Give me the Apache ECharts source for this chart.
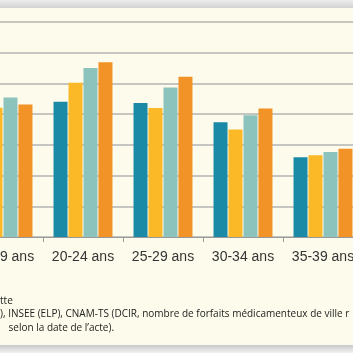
<!DOCTYPE html>
<html>
<head>
<meta charset="utf-8">
<script src="https://cdn.jsdelivr.net/npm/echarts@6/dist/echarts.min.js"></script>
<style>
html,body{margin:0;padding:0;background:#fcfbec;overflow:hidden;width:353px;height:353px;position:relative;}
#c{width:400px;height:353px;position:absolute;left:-37px;top:0;}
</style>
</head>
<body>
<div id="c"></div>
<script>
const categories = ['15-19 ans', '20-24 ans', '25-29 ans', '30-34 ans', '35-39 ans'];
const series1 = [4.30, 4.40, 4.36, 3.74, 2.60];
const series2 = [4.21, 5.02, 4.20, 3.50, 2.66];
const series3 = [4.54, 5.50, 4.87, 3.96, 2.77];
const series4 = [4.31, 5.69, 5.22, 4.18, 2.87];
const seriesNames = ['Série 1', 'Série 2', 'Série 3', 'Série 4'];
const colors = ['#1b8aa6', '#fbb827', '#8dc3bd', '#f29327'];
const footLines = ['tte', '), INSEE (ELP), CNAM-TS (DCIR, nombre de forfaits médicamenteux de ville r', ' selon la date de l\u2019acte).'];

const OFF = 37;
const chart = echarts.init(document.getElementById('c'), null, {renderer: 'canvas'});
const allData = [series1, series2, series3, series4];
chart.setOption({
  backgroundColor: '#fcfbec',
  animation: false,
  grid: {left: 0, right: 0, top: 22, height: 215, containLabel: false},
  xAxis: {
    type: 'category',
    data: categories,
    boundaryGap: true,
    axisLine: {lineStyle: {color: '#9a9a9a', width: 1}},
    axisTick: {show: true, length: 5, lineStyle: {color: '#9a9a9a'}},
    axisLabel: {interval: 0, color: '#333', fontSize: 14, fontFamily: 'Liberation Sans', margin: 13}
  },
  yAxis: {
    type: 'value', min: 0, max: 7, interval: 1,
    axisLabel: {show: false}, axisLine: {show: false}, axisTick: {show: false},
    splitLine: {lineStyle: {color: '#b3b3b3', width: 1.5}}
  },
  series: allData.map((d, i) => ({
    type: 'bar', name: seriesNames[i], data: d,
    barWidth: 14, barGap: '7%',
    itemStyle: {color: colors[i]}
  })),
  graphic: [
    {type: 'rect', left: 0, top: 0, shape: {width: 400, height: 8},
     style: {fill: new echarts.graphic.LinearGradient(0, 0, 0, 1, [{offset: 0, color: '#ececec'}, {offset: 1, color: '#d2d2d2'}])}},
    {type: 'rect', left: 0, top: 345, shape: {width: 400, height: 8},
     style: {fill: new echarts.graphic.LinearGradient(0, 0, 0, 1, [{offset: 0, color: '#c9c9c9'}, {offset: 1, color: '#f2f2f2'}])}},
    {type: 'text', left: OFF, top: 296, style: {text: footLines[0], fill: '#222', font: '10px "Open Sans"'}},
    {type: 'text', left: OFF, top: 309, style: {text: footLines[1], fill: '#222', font: '10px "Open Sans"'}},
    {type: 'text', left: OFF + 6, top: 323, style: {text: footLines[2], fill: '#222', font: '10px "Open Sans"'}}
  ]
});
</script>
</body>
</html>
